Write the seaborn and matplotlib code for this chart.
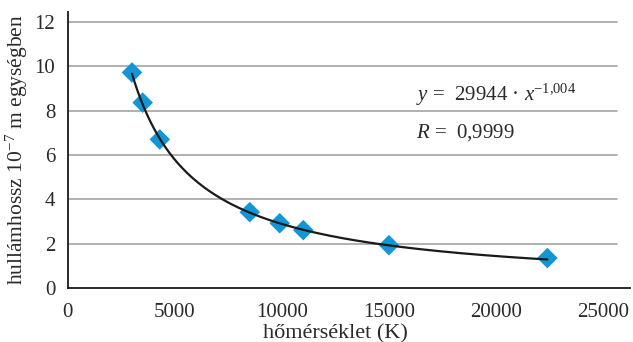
import numpy as np
import pandas as pd
import matplotlib
matplotlib.use("Agg")
import matplotlib.pyplot as plt
import seaborn as sns

# measured points (temperature in K, wavelength in 1e-7 m)
temperature = [3000, 3500, 4300, 8500, 9900, 11000, 15000, 22400]
wavelength = [9.72, 8.36, 6.70, 3.42, 2.92, 2.61, 1.93, 1.35]

# power-law fit shown on the chart
fit_a = 29944
fit_b = -1.004

xticks = [0, 5000, 10000, 15000, 20000, 25000]
yticks = [0, 2, 4, 6, 8, 10, 12]

sns.set_style("white")
plt.rcParams['font.family'] = ['Liberation Serif', 'DejaVu Serif']
plt.rcParams['mathtext.fontset'] = 'custom'
plt.rcParams['mathtext.rm'] = 'Liberation Serif'
plt.rcParams['mathtext.it'] = 'Liberation Serif:italic'

fig = plt.figure(figsize=(6.33, 3.42), dpi=100)
ax = fig.add_axes([0.107, 0.158, 0.888, 0.807])

df = pd.DataFrame({"T": temperature, "lam": wavelength})
sns.scatterplot(data=df, x="T", y="lam", marker="D", s=110, color="#1296d6",
                edgecolor="none", zorder=3, ax=ax)

xs = np.linspace(min(temperature), max(temperature), 300)
fit = pd.DataFrame({"T": xs, "lam": fit_a * xs ** fit_b})
sns.lineplot(data=fit, x="T", y="lam", color="#1a1a1a", lw=1.6, zorder=4, ax=ax)

ax.set_xlim(0, 26250)
ax.set_ylim(0, 12.45)
ax.set_xticks(xticks)
ax.set_yticks(yticks)
for y in yticks[1:]:
    ax.axhline(y, xmax=25650 / 26250, color="#a3a3a3", lw=1.2, zorder=1)

for s in ["top", "right"]:
    ax.spines[s].set_visible(False)
for s in ["left", "bottom"]:
    ax.spines[s].set_color("#1a1a1a")
    ax.spines[s].set_linewidth(1.3)
ax.tick_params(axis="both", direction="out", length=6, width=1.2,
               color="#1a1a1a", labelsize=15, labelcolor="#2a2a2a")
ax.tick_params(axis="x", pad=5)
ax.tick_params(axis="y", pad=3)

ax.set_xlabel("hőmérséklet (K)", fontsize=16, color="#2a2a2a", labelpad=0)
ax.xaxis.set_label_coords(0.476, -0.13)
ax.set_ylabel("hullámhossz 10$^{-7}$ m egységben", fontsize=15.5,
              color="#2a2a2a", labelpad=3)

ax.text(16250, 8.7, r"$y$ =  29944 · $x$$^{-1{,}004}$", fontsize=15,
        color="#2a2a2a", va="center")
ax.text(16250, 7.0, r"$R$ =  0,9999", fontsize=15, color="#2a2a2a", va="center")

fig.savefig("out.png", dpi=100)
